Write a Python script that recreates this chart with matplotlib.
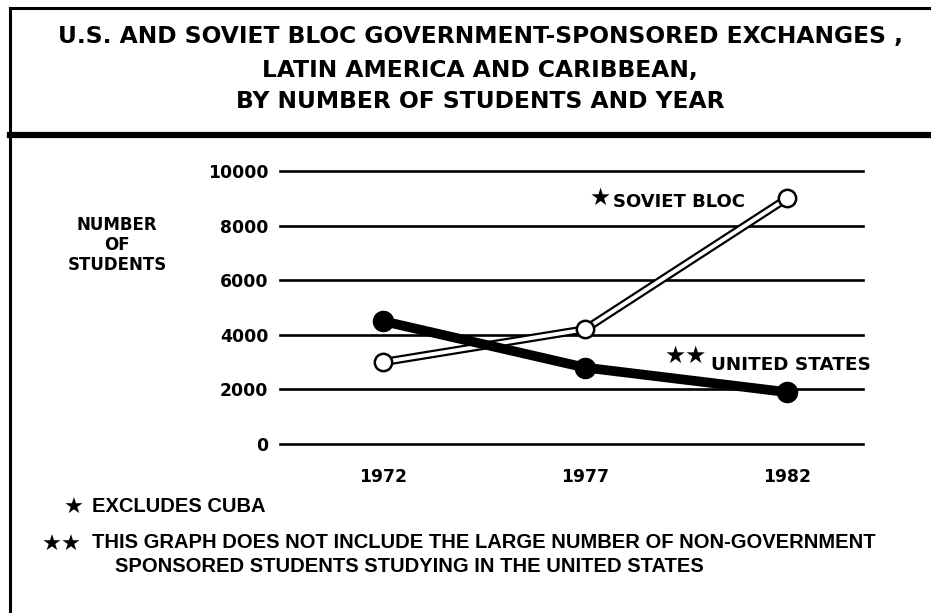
import matplotlib
matplotlib.use('Agg')
import matplotlib.pyplot as plt
from matplotlib.lines import Line2D

# data
years = [1972, 1977, 1982]
soviet_bloc = [3000, 4200, 9000]
united_states = [4500, 2800, 1900]
y_ticks = [0, 2000, 4000, 6000, 8000, 10000]

title_lines = ['U.S. AND SOVIET BLOC GOVERNMENT-SPONSORED EXCHANGES ,',
               'LATIN AMERICA AND CARIBBEAN,',
               'BY NUMBER OF STUDENTS AND YEAR']
y_label = 'NUMBER\nOF\nSTUDENTS'
soviet_label = 'SOVIET BLOC'
us_label = 'UNITED STATES'
note1 = 'EXCLUDES CUBA'
note2 = 'THIS GRAPH DOES NOT INCLUDE THE LARGE NUMBER OF NON-GOVERNMENT'
note3 = 'SPONSORED STUDENTS STUDYING IN THE UNITED STATES'

W, H = 931, 613
fig = plt.figure(figsize=(W/100, H/100), dpi=100, facecolor='white')

# pixel -> figure fraction
fx = lambda px: px/W
fy = lambda py: 1 - py/H

fam_wide = ['DejaVu Sans']
fam_narrow = ['Liberation Sans', 'DejaVu Sans']

# frame lines
fig.add_artist(Line2D([fx(10), fx(10)], [fy(8), fy(613)], color='black', lw=2.2))
fig.add_artist(Line2D([fx(10), 1], [fy(8), fy(8)], color='black', lw=2.2))
fig.add_artist(Line2D([fx(10), 1], [fy(135), fy(135)], color='black', lw=4.5))

# title
for t, py in zip(title_lines, [36, 70, 101]):
    fig.text(fx(480), fy(py), t, ha='center', va='center', fontsize=16.8,
             fontweight='bold', family=fam_wide)

# plot area
ax = fig.add_axes([fx(280), fy(444), (863-280)/W, (444-171)/H])
ax.set_xlim(1969.45, 1983.88)
ax.set_ylim(0, 10000)
for s in ax.spines.values():
    s.set_visible(False)
for v in y_ticks:
    ax.axhline(v, color='black', lw=1.9, zorder=1, clip_on=False)
ax.set_yticks(y_ticks)
ax.set_yticklabels([str(v) for v in y_ticks], fontsize=12.4, fontweight='bold', family=fam_wide)
ax.set_xticks(years)
ax.set_xticklabels([str(v) for v in years], fontsize=12.4, fontweight='bold', family=fam_wide)
ax.tick_params(axis='y', length=0, pad=8.5)
ax.tick_params(axis='x', length=0, pad=17)
ax.set_facecolor('none')

# soviet bloc: hollow double line with open circles
ax.plot(years, soviet_bloc, color='black', lw=6.0, solid_capstyle='butt', zorder=3, clip_on=False)
ax.plot(years, soviet_bloc, color='white', lw=2.8, solid_capstyle='butt', zorder=4, clip_on=False)
ax.plot(years, soviet_bloc, ls='none', marker='o', ms=12.5, mfc='white', mec='black', mew=1.8,
        zorder=5, clip_on=False)

# united states: heavy black line with filled circles
ax.plot(years, united_states, color='black', lw=7, marker='o', ms=14.5, mfc='black', mec='black',
        zorder=6, clip_on=False)

# series labels
fig.text(fx(600), fy(198), '\u2605', ha='center', va='center', fontsize=17, family=fam_wide)
fig.text(fx(613), fy(202), soviet_label, ha='left', va='center', fontsize=13,
         fontweight='bold', family=fam_wide)
fig.text(fx(686), fy(356), '\u2605\u2605', ha='center', va='center', fontsize=17, family=fam_wide)
fig.text(fx(711), fy(365), us_label, ha='left', va='center', fontsize=13.2,
         fontweight='bold', family=fam_wide)

# y axis title
fig.text(fx(117), fy(245), y_label, ha='center', va='center', fontsize=12,
         fontweight='bold', family=fam_wide, linespacing=1.15)

# footnotes
fig.text(fx(74), fy(508), '\u2605', ha='center', va='center', fontsize=16, family=fam_wide)
fig.text(fx(92), fy(506), note1, ha='left', va='center', fontsize=14.5,
         fontweight='bold', family=fam_narrow)
fig.text(fx(62), fy(545), '\u2605\u2605', ha='center', va='center', fontsize=16, family=fam_wide)
fig.text(fx(92), fy(542), note2, ha='left', va='center', fontsize=14.5,
         fontweight='bold', family=fam_narrow)
fig.text(fx(115), fy(566), note3, ha='left', va='center', fontsize=14.5,
         fontweight='bold', family=fam_narrow)

fig.savefig('out.png', dpi=100, facecolor='white')
